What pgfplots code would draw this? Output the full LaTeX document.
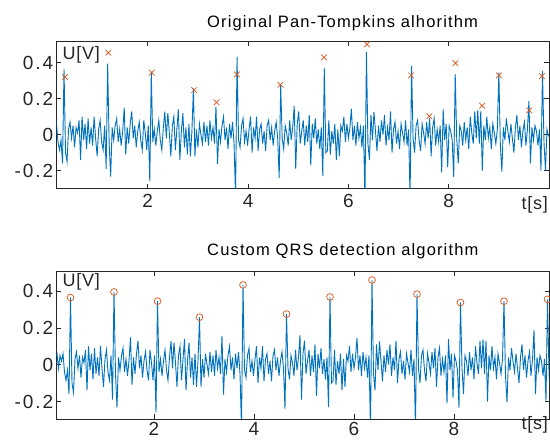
\documentclass[border=0pt]{standalone}
\usepackage{pgfplots}
\usepackage{pgfplotstable}
\pgfplotsset{compat=1.18}
\usepackage{fontspec}
\setmainfont{Liberation Sans}
\newfontfamily\tickfont[LetterSpace=10]{Liberation Sans}
\newfontfamily\labfont[LetterSpace=4]{Liberation Sans}
\newfontfamily\titlefont[LetterSpace=7]{Liberation Sans}
\definecolor{mblue}{rgb}{0,0.447,0.741}
\definecolor{morange}{rgb}{0.85,0.325,0.098}
\definecolor{axgray}{rgb}{0.15,0.15,0.15}

\pgfplotstableread[row sep=\\]{
t y\\
0.03 0.04\\ 0.06 0.06\\ 0.09 -0.02\\ 0.12 0.05\\ 0.15 0.02\\ 0.18 0.06\\ 0.21 -0.04\\ 0.24 -0.085\\ 0.27 -0.03\\ 0.30 -0.16\\
0.33 0.365\\ 0.36 -0.10\\ 0.39 -0.15\\ 0.42 0.03\\ 0.45 0.07\\ 0.48 -0.02\\ 0.51 0.05\\ 0.54 -0.07\\ 0.57 0.04\\ 0.60 0.01\\
0.63 0.08\\ 0.66 -0.14\\ 0.69 0.10\\ 0.72 -0.03\\ 0.75 0.06\\ 0.78 -0.08\\ 0.81 0.09\\ 0.84 -0.05\\ 0.87 0.04\\ 0.90 -0.06\\
0.93 0.10\\ 0.96 -0.02\\ 0.99 -0.12\\ 1.02 0.03\\ 1.05 0.08\\ 1.08 -0.04\\ 1.11 -0.085\\ 1.14 0.05\\ 1.17 -0.19\\ 1.20 0.395\\
1.23 -0.05\\ 1.26 -0.233\\ 1.29 0.04\\ 1.32 -0.03\\ 1.35 0.05\\ 1.38 0.09\\ 1.41 -0.04\\ 1.44 0.03\\ 1.47 -0.06\\ 1.50 0.02\\
1.53 0.15\\ 1.56 -0.11\\ 1.59 0.04\\ 1.62 -0.05\\ 1.65 0.06\\ 1.68 0.13\\ 1.71 -0.02\\ 1.74 0.05\\ 1.77 -0.07\\ 1.80 0.02\\
1.83 0.07\\ 1.86 -0.03\\ 1.89 -0.085\\ 1.92 0.08\\ 1.95 0.01\\ 1.98 -0.085\\ 2.01 0.05\\ 2.04 -0.26\\ 2.07 0.345\\ 2.10 -0.04\\
2.13 0.03\\ 2.16 -0.06\\ 2.19 0.02\\ 2.22 0.08\\ 2.25 -0.03\\ 2.28 -0.085\\ 2.31 0.04\\ 2.34 0.128\\ 2.37 -0.02\\ 2.40 0.12\\
2.43 0.01\\ 2.46 -0.12\\ 2.49 0.05\\ 2.52 0.10\\ 2.55 -0.085\\ 2.58 0.03\\ 2.61 0.14\\ 2.64 -0.14\\ 2.67 0.02\\ 2.70 0.12\\
2.73 -0.07\\ 2.76 0.04\\ 2.79 -0.11\\ 2.82 0.06\\ 2.85 -0.12\\ 2.88 0.02\\ 2.91 0.258\\ 2.94 -0.12\\ 2.97 0.03\\ 3.00 -0.07\\
3.03 0.06\\ 3.06 0.00\\ 3.09 -0.05\\ 3.12 0.07\\ 3.15 -0.04\\ 3.18 0.05\\ 3.21 -0.06\\ 3.24 0.08\\ 3.27 -0.02\\ 3.30 0.04\\
3.33 -0.05\\ 3.36 0.156\\ 3.39 -0.163\\ 3.42 0.03\\ 3.45 -0.04\\ 3.48 0.05\\ 3.51 0.10\\ 3.54 -0.03\\ 3.57 0.04\\ 3.60 -0.08\\
3.63 0.06\\ 3.66 -0.02\\ 3.69 0.07\\ 3.72 -0.05\\ 3.75 -0.34\\ 3.78 0.433\\ 3.81 -0.03\\ 3.84 -0.07\\ 3.87 0.05\\ 3.90 0.09\\
3.93 -0.04\\ 3.96 0.02\\ 3.99 -0.06\\ 4.02 0.03\\ 4.05 0.10\\ 4.08 -0.10\\ 4.11 0.04\\ 4.14 -0.02\\ 4.17 0.10\\ 4.20 -0.09\\
4.23 0.03\\ 4.26 0.06\\ 4.29 -0.05\\ 4.32 0.02\\ 4.35 -0.09\\ 4.38 0.05\\ 4.41 0.08\\ 4.44 -0.03\\ 4.47 0.04\\ 4.50 -0.06\\
4.53 0.02\\ 4.56 0.07\\ 4.59 -0.02\\ 4.62 -0.24\\ 4.65 0.275\\ 4.68 -0.02\\ 4.71 -0.08\\ 4.74 0.05\\ 4.77 0.01\\ 4.80 -0.06\\
4.83 0.08\\ 4.86 -0.03\\ 4.89 0.04\\ 4.92 0.16\\ 4.95 -0.19\\ 4.98 0.06\\ 5.01 0.13\\ 5.04 -0.05\\ 5.07 0.02\\ 5.10 0.08\\
5.13 -0.06\\ 5.16 0.05\\ 5.19 -0.04\\ 5.22 0.11\\ 5.25 -0.17\\ 5.28 0.06\\ 5.31 -0.02\\ 5.34 0.09\\ 5.37 -0.05\\ 5.40 0.03\\
5.43 -0.08\\ 5.46 0.04\\ 5.49 -0.23\\ 5.52 0.368\\ 5.55 -0.10\\ 5.58 -0.09\\ 5.61 0.08\\ 5.64 -0.11\\ 5.67 0.02\\ 5.70 -0.05\\
5.73 0.06\\ 5.76 -0.14\\ 5.79 0.03\\ 5.82 -0.12\\ 5.85 0.05\\ 5.88 0.02\\ 5.91 0.10\\ 5.94 -0.04\\ 5.97 0.06\\ 6.00 -0.02\\
6.03 0.04\\ 6.06 0.145\\ 6.09 -0.03\\ 6.12 0.05\\ 6.15 -0.06\\ 6.18 0.07\\ 6.21 -0.02\\ 6.24 0.04\\ 6.27 -0.07\\ 6.30 0.05\\
6.33 -0.36\\ 6.36 0.46\\ 6.39 -0.05\\ 6.42 -0.14\\ 6.45 0.11\\ 6.48 -0.03\\ 6.51 0.127\\ 6.54 0.02\\ 6.57 -0.09\\ 6.60 0.05\\
6.63 -0.04\\ 6.66 0.08\\ 6.69 0.00\\ 6.72 0.11\\ 6.75 -0.06\\ 6.78 0.04\\ 6.81 -0.03\\ 6.84 0.13\\ 6.87 -0.10\\ 6.90 0.03\\
6.93 0.07\\ 6.96 -0.05\\ 6.99 0.02\\ 7.02 -0.08\\ 7.05 0.06\\ 7.08 0.01\\ 7.11 -0.04\\ 7.14 0.08\\ 7.17 -0.06\\ 7.20 0.03\\
7.23 -0.35\\ 7.26 0.383\\ 7.29 -0.02\\ 7.32 -0.10\\ 7.35 0.05\\ 7.38 0.08\\ 7.41 -0.03\\ 7.44 -0.09\\ 7.47 0.06\\ 7.50 0.01\\
7.53 -0.05\\ 7.56 0.07\\ 7.59 -0.02\\ 7.62 0.09\\ 7.65 -0.12\\ 7.68 0.04\\ 7.71 0.09\\ 7.74 -0.06\\ 7.77 0.03\\ 7.80 -0.04\\
7.83 0.05\\ 7.86 -0.21\\ 7.89 0.14\\ 7.92 -0.03\\ 7.95 0.06\\ 7.98 -0.18\\ 8.01 0.05\\ 8.04 0.02\\ 8.07 -0.03\\ 8.10 -0.235\\
8.13 0.338\\ 8.16 -0.02\\ 8.19 -0.16\\ 8.22 0.05\\ 8.25 0.02\\ 8.28 -0.06\\ 8.31 0.07\\ 8.34 -0.03\\ 8.37 0.04\\ 8.40 -0.08\\
8.43 0.10\\ 8.46 0.01\\ 8.49 -0.05\\ 8.52 0.13\\ 8.55 -0.02\\ 8.58 0.137\\ 8.61 -0.05\\ 8.64 0.13\\ 8.67 -0.20\\ 8.70 0.05\\
8.73 -0.03\\ 8.76 0.10\\ 8.79 -0.02\\ 8.82 0.04\\ 8.85 -0.08\\ 8.88 0.06\\ 8.91 0.01\\ 8.94 -0.05\\ 8.97 0.03\\ 9.00 0.345\\
9.03 -0.06\\ 9.06 -0.205\\ 9.09 0.04\\ 9.12 -0.03\\ 9.15 0.09\\ 9.18 0.02\\ 9.21 -0.04\\ 9.24 0.06\\ 9.27 -0.02\\ 9.30 -0.10\\
9.33 0.04\\ 9.36 0.11\\ 9.39 -0.03\\ 9.42 0.05\\ 9.45 -0.07\\ 9.48 0.02\\ 9.51 0.07\\ 9.54 -0.06\\ 9.57 0.03\\ 9.60 0.187\\
9.63 -0.16\\ 9.66 0.04\\ 9.69 -0.03\\ 9.72 0.05\\ 9.75 0.02\\ 9.78 -0.06\\ 9.81 0.03\\ 9.84 -0.20\\ 9.87 0.355\\ 9.90 -0.04\\
9.93 -0.20\\ 9.96 0.03\\ 9.99 -0.01\\
}\sig

\pgfplotsset{myax/.style={
  scale only axis, width=492.3pt, anchor=south west,
  axis line style={axgray, line width=0.6pt},
  tick style={axgray, line width=0.6pt},
  major tick length=4.5pt, tick align=inside,
  xtick={2,4,6,8}, xticklabels={2,4,6,8},
  ytick={-0.2,0,0.2,0.4}, yticklabels={-0.2,0,0.2,0.4},
  minor tick num=0,
  ticklabel style={font=\tickfont\fontsize{19}{21}\selectfont, text=axgray},
}}

\begin{document}
\begin{tikzpicture}
\path[use as bounding box] (0,0) rectangle (550pt,441pt);

\begin{axis}[myax, at={(56.7pt,252.7pt)}, height=146.6pt,
  xmin=0.184, xmax=10.0, ymin=-0.298, ymax=0.517,
  xticklabel style={yshift=-2.5pt}]
\addplot[mblue, line width=0.9pt, no markers] table[x=t,y=y] {\sig};
\addplot[only marks, mark=x, mark size=4pt, morange, mark options={line width=0.7pt}] coordinates {
(0.35,0.32) (1.214,0.456) (2.08,0.345) (2.925,0.248) (3.37,0.18) (3.777,0.335)
(4.645,0.278) (5.513,0.43) (6.372,0.502) (7.25,0.33) (7.615,0.103) (8.134,0.398)
(8.667,0.161) (9.0,0.33) (9.605,0.135) (9.857,0.325)};
\end{axis}

\begin{axis}[myax, at={(56.7pt,22pt)}, height=147.3pt,
  xmin=0.054, xmax=9.9, ymin=-0.295, ymax=0.505]
\addplot[mblue, line width=0.9pt, no markers] table[x=t,y=y] {\sig};
\addplot[only marks, mark=o, mark size=3.4pt, morange, mark options={line width=0.7pt}] coordinates {
(0.33,0.365) (1.20,0.395) (2.07,0.345) (2.91,0.258) (3.78,0.433) (4.65,0.275)
(5.52,0.368) (6.36,0.46) (7.26,0.383) (8.13,0.338) (9.00,0.345) (9.87,0.355)};
\end{axis}

% labels
\node[anchor=base west, inner sep=0pt, text=axgray, font=\labfont\fontsize{18}{20}\selectfont] at (62.5pt,381.5pt) {U[V]};
\node[anchor=base west, inner sep=0pt, text=axgray, font=\labfont\fontsize{18}{20}\selectfont] at (62.5pt,154pt) {U[V]};
\node[anchor=base east, inner sep=0pt, text=axgray, font=\labfont\fontsize{18}{20}\selectfont] at (548pt,231pt) {t[s]};
\node[anchor=base east, inner sep=0pt, text=axgray, font=\labfont\fontsize{18}{20}\selectfont] at (548pt,11pt) {t[s]};
\node[anchor=base west, inner sep=0pt, text=black, font=\titlefont\fontsize{16.5}{20}\selectfont] at (207pt,413.7pt) {Original Pan-Tompkins alhorithm};
\node[anchor=base west, inner sep=0pt, text=black, font=\titlefont\fontsize{16.5}{20}\selectfont] at (207pt,185pt) {Custom QRS detection algorithm};
\end{tikzpicture}
\end{document}
